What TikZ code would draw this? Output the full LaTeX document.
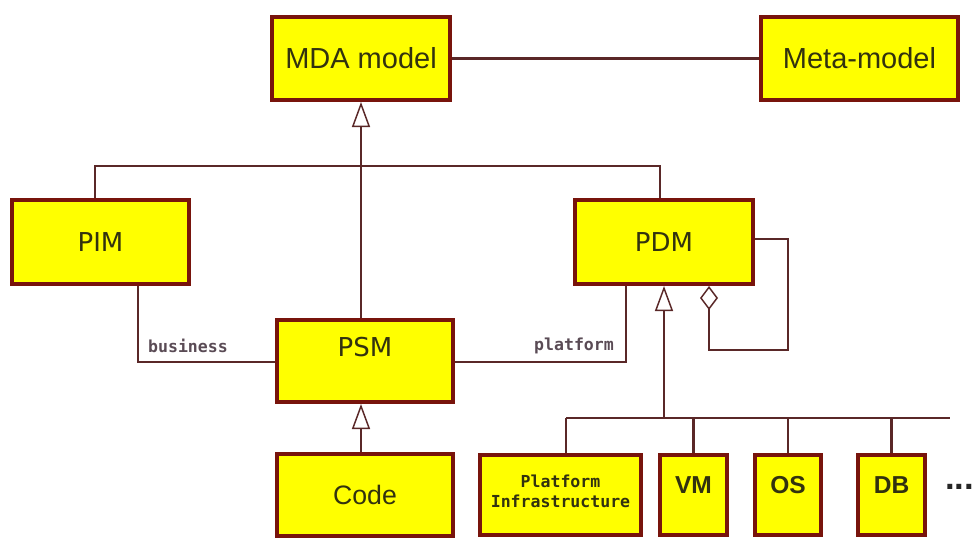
\documentclass[tikz,border=0pt]{standalone}
\usepackage{fontspec}
\setmainfont{Liberation Sans}
\newfontfamily\dvs{DejaVu Sans}
\newfontfamily\dvm{DejaVu Sans Mono}
\usetikzlibrary{arrows.meta}
\definecolor{boxfill}{RGB}{255,255,0}
\definecolor{boxline}{RGB}{120,20,12}
\definecolor{conn}{RGB}{90,40,40}
\definecolor{txt}{RGB}{50,50,15}
\definecolor{lbl}{RGB}{90,75,85}
\begin{document}
\begin{tikzpicture}[x=0.75pt,y=-0.75pt,
  box/.style={draw=boxline, fill=boxfill, line width=3pt, inner sep=0pt, text=txt, align=center},
  sz/.style 2 args={minimum width=#1*0.75pt, minimum height=#2*0.75pt},
  conline/.style={draw=conn, line width=1.6pt},
  gen/.style={conline, -{Triangle[open, fill=white, length=18.75pt, width=13.5pt, line width=1.1pt]}},
  aggr/.style={conline, {Diamond[open, fill=white, length=18pt, width=13.5pt, line width=1.1pt]}-},
  lbltext/.style={text=lbl, font=\dvm\bfseries\fontsize{12.4}{14}\selectfont, inner sep=0pt},
  big/.style={font=\fontsize{21.75}{26}\selectfont},
  mid/.style={font=\dvs\fontsize{19.5}{23}\selectfont},
  small/.style={font=\bfseries\fontsize{18.4}{22}\selectfont}
]
\fill[white] (0,0) rectangle (977,539);
\useasboundingbox (0,0) rectangle (977,539);

% boxes
\node[box, sz={178}{83}, big] (mda) at (361,58.5) {MDA model};
\node[box, sz={197}{83}, big] (meta) at (859.5,58.5) {Meta-model};
\node[box, sz={177}{84}, mid] (pim) at (100.5,242) {PIM};
\node[box, sz={178}{84}, mid] (pdm) at (664,242) {PDM};
\node[box, sz={176}{82}, mid] (psm) at (365,361) {\raisebox{21pt}{PSM}};
\node[box, sz={176}{82}, font=\fontsize{20}{24}\selectfont] (code) at (365,495) {Code};
\node[box, sz={161}{80}, font=\dvm\bfseries\fontsize{12.4}{18.75}\selectfont] (pi) at (560.5,495) {\raisebox{6pt}{\shortstack{Platform\\[2pt]Infrastructure}}};
\node[box, sz={67}{80}, small] (vm) at (693.5,495) {\raisebox{15pt}{VM}};
\node[box, sz={66}{80}, small] (os) at (788,495) {\raisebox{15pt}{OS}};
\node[box, sz={67}{80}, small] (db) at (891.5,495) {\raisebox{15pt}{DB}};
\node[text=black!85, font=\bfseries\fontsize{26}{28}\selectfont, anchor=west, inner sep=0pt] (dots) at (945,487) {...};

% helper coordinates
\coordinate (barL) at (95,166);
\coordinate (barR) at (660,166);
\coordinate (bus) at (138,362);
\coordinate (plat) at (626,362);
\coordinate (pdmbar) at (664,418);
\coordinate (barBL) at (566,418);
\coordinate (barBR) at (950,418);
\coordinate (agg1) at (709,350);
\coordinate (agg2) at (788,239);

% MDA -- Meta-model
\draw[conline] (mda.east) -- (meta.west);
% PIM / PDM generalisation bar
\draw[conline] (pim.north -| barL) -- (barL) -- (barR) -- (pdm.north -| barR);
% PSM -> MDA model
\draw[gen] (psm.north -| mda.south) -- (mda.south);
% business
\draw[conline] (pim.south -| bus) -- (bus) -- (psm.west |- bus);
\node[lbltext] (busl) at (188,346) {business};
% platform
\draw[conline] (psm.east |- plat) -- (plat) -- (pdm.south -| plat);
\node[lbltext] (platl) at (574,346) {platform};
% Code -> PSM
\draw[gen] (code.north -| mda.south) -- (psm.south -| mda.south);
% PDM aggregation self loop
\draw[aggr] (pdm.south -| agg1) -- (agg1) -| (agg2) -- (pdm.east |- agg2);
% platforms -> PDM
\draw[gen] (pdmbar) -- (pdm.south -| pdmbar);
\draw[conline] (barBL) -- (barBR);
\draw[conline] (pi.north -| barBL) -- (barBL);
\draw[conline] (vm.north) -- (vm.north |- barBL);
\draw[conline] (os.north) -- (os.north |- barBL);
\draw[conline] (db.north) -- (db.north |- barBL);
\end{tikzpicture}
\end{document}
